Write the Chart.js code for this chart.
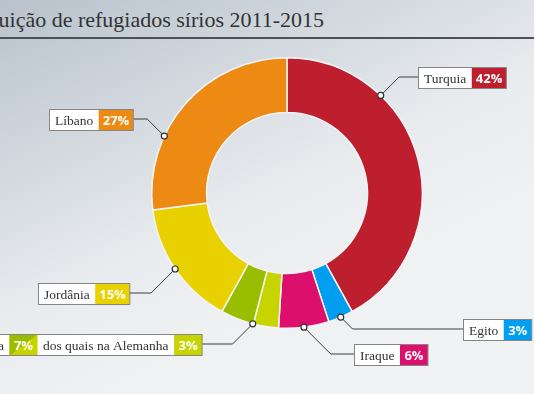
<!DOCTYPE html>
<html>
<head>
<meta charset="utf-8">
<script src="https://cdn.jsdelivr.net/npm/chart.js@4.4.0/dist/chart.umd.min.js"></script>
<style>
  html, body { margin: 0; padding: 0; }
  body {
    width: 534px; height: 394px; overflow: hidden; position: relative;
    background: linear-gradient(155deg, #b8c2cc 0%, #d3d9df 28%, #e9ecef 50%, #f0f1f3 70%, #f1f2f4 100%);
  }
  #title {
    position: absolute; right: 210px; top: 7px; white-space: nowrap;
    font-family: "Liberation Serif", serif; font-size: 22px; color: #333;
  }
  #rule { position: absolute; left: 0; top: 37px; width: 534px; border-top: 2px solid #4d5156; }
  #chart { position: absolute; left: 0; top: 0; }
</style>
</head>
<body>
<div id="title">Distribuição de refugiados sírios 2011-2015</div>
<div id="rule"></div>
<canvas id="chart" width="534" height="394"></canvas>
<script>
// shares in %, clockwise from the top
const countries = ['Turquia', 'Egito', 'Iraque', 'Alemanha', 'Europa (outros)', 'Jordânia', 'Líbano'];
const shares = [42, 3, 6, 3, 4, 15, 27];
const colors = ['#be1f2e', '#009ef0', '#dc106c', '#c8d400', '#99be00', '#e9d100', '#ed8a13'];

// callout boxes: which segments they point at, where the dot sits inside them,
// and where the box is (near edge x / centre y, relative to the ring centre)
const callouts = [
  { segs: [0], at: 0.29, side: 'right', dx: 131, dy: -116, parts: [{ name: 'Turquia', segs: [0] }] },
  { segs: [1], at: 0.5, side: 'right', dx: 176, dy: 136, parts: [{ name: 'Egito', segs: [1] }] },
  { segs: [2], at: 0.5, side: 'right', dx: 67, dy: 161, parts: [{ name: 'Iraque', segs: [2] }] },
  { segs: [3, 4], at: 0.44, side: 'left', dx: -85, dy: 151,
    parts: [{ name: 'Europa', segs: [3, 4] }, { name: 'dos quais na Alemanha', segs: [3] }] },
  { segs: [5], at: 0.5, side: 'left', dx: -158, dy: 100, parts: [{ name: 'Jordânia', segs: [5] }] },
  { segs: [6], at: 0.33, side: 'left', dx: -154, dy: -74, parts: [{ name: 'Líbano', segs: [6] }] }
];

const labelFont = '13.5px "Liberation Serif", serif';
const pctFont = 'bold 13px "Open Sans", sans-serif';

const calloutPlugin = {
  id: 'callouts',
  afterDatasetsDraw(chart) {
    const ctx = chart.ctx;
    const arcs = chart.getDatasetMeta(0).data;
    const cx = arcs[0].x, cy = arcs[0].y, R = arcs[0].outerRadius;
    ctx.save();
    callouts.forEach(c => {
      const a0 = arcs[c.segs[0]].startAngle;
      const a1 = arcs[c.segs[c.segs.length - 1]].endAngle;
      const a = a0 + c.at * (a1 - a0);
      const px = cx + R * Math.cos(a), py = cy + R * Math.sin(a);
      const bx = cx + c.dx, by = cy + c.dy;
      const dir = c.side === 'right' ? 1 : -1;
      const ex = px + dir * Math.abs(by - py);

      ctx.strokeStyle = '#3c3c3c';
      ctx.lineWidth = 1;
      ctx.beginPath();
      ctx.moveTo(px, py);
      ctx.lineTo(ex, by);
      ctx.lineTo(bx, by);
      ctx.stroke();

      // box cells
      const cells = [];
      c.parts.forEach(p => {
        const pct = p.segs.reduce((s, i) => s + shares[i], 0) + '%';
        ctx.font = labelFont;
        cells.push({ kind: 'label', text: p.name, w: ctx.measureText(p.name).width + 11 });
        ctx.font = pctFont;
        cells.push({ kind: 'pct', text: pct, segs: p.segs, w: Math.max(28, ctx.measureText(pct).width + 8) });
      });
      const total = cells.reduce((s, k) => s + k.w, 0);
      const h = 21;
      let x = c.side === 'right' ? bx : bx - total;
      const top = Math.round(by - h / 2) + 0.5;
      const left = Math.round(x) + 0.5;
      ctx.fillStyle = '#ffffff';
      ctx.fillRect(left, top, total, h);
      x = left;
      cells.forEach(k => {
        if (k.kind === 'pct') {
          ctx.fillStyle = colors[k.segs[0]];
          ctx.fillRect(x, top, k.w, h);
          if (k.segs.length > 1) {
            // combined group: darker part in the upper-left triangle
            ctx.fillStyle = colors[k.segs[1]];
            ctx.beginPath();
            ctx.moveTo(x, top);
            ctx.lineTo(x + k.w, top);
            ctx.lineTo(x, top + h);
            ctx.closePath();
            ctx.fill();
          }
          ctx.font = pctFont;
          ctx.fillStyle = '#ffffff';
        } else {
          ctx.font = labelFont;
          ctx.fillStyle = '#333333';
        }
        ctx.textAlign = 'center';
        ctx.textBaseline = 'middle';
        ctx.fillText(k.text, x + k.w / 2, top + h / 2 + 1);
        x += k.w;
      });
      ctx.strokeStyle = '#858585';
      ctx.strokeRect(left, top, total, h);

      // anchor dot
      ctx.fillStyle = '#ffffff';
      ctx.strokeStyle = '#333333';
      ctx.lineWidth = 1.2;
      ctx.beginPath();
      ctx.arc(px, py, 3, 0, Math.PI * 2);
      ctx.fill();
      ctx.stroke();
    });
    ctx.restore();
  }
};

const ctx = document.getElementById('chart').getContext('2d');
const myChart = new Chart(ctx, {
  type: 'doughnut',
  data: {
    labels: countries,
    datasets: [{
      data: shares,
      backgroundColor: colors,
      borderColor: '#f3f4f5',
      borderWidth: 1.5
    }]
  },
  options: {
    responsive: false,
    animation: false,
    cutout: '59.5%',
    layout: { padding: { left: 87, right: 47, top: 57, bottom: 65 } },
    plugins: {
      legend: { display: false },
      tooltip: { enabled: false }
    }
  },
  plugins: [calloutPlugin]
});
</script>
</body>
</html>
